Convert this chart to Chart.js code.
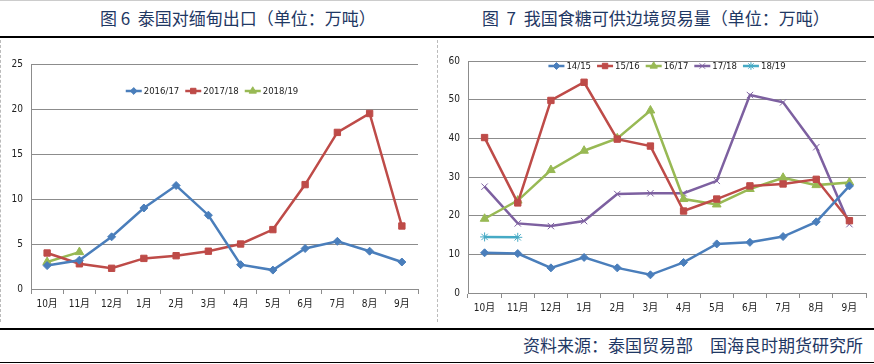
<!DOCTYPE html>
<html>
<head>
<meta charset="utf-8">
<script src="https://cdn.jsdelivr.net/npm/chart.js@4"></script>
<style>
body{margin:0;width:874px;height:364px;background:#fff;position:relative;overflow:hidden;font-family:"Noto Sans CJK SC",sans-serif}
.line{position:absolute;left:0;width:874px;background:#000}
.title{position:absolute;top:7px;font-size:17px;line-height:22px;color:#1f3864;white-space:pre}
.vdash{position:absolute;top:40px;height:282px;width:0;border-left:1px dashed #bbb}
.box{position:absolute;top:40px;width:434px;height:280px}
.src{position:absolute;right:11px;top:333px;font-size:17px;line-height:24px;color:#1f3864;white-space:pre}
</style>
</head>
<body>
<div class="line" style="top:0;height:1px;background:#ccc"></div>
<div class="title" style="left:100px">图 6  泰国对缅甸出口（单位：万吨）</div>
<div class="title" style="left:482px">图  7  我国食糖可供边境贸易量（单位：万吨）</div>
<div class="line" style="top:36px;height:2px"></div>
<div class="vdash" style="left:0"></div>
<div class="vdash" style="left:437px"></div>
<div class="box" style="left:2px"><canvas id="c1" width="434" height="280"></canvas></div>
<div class="box" style="left:438px"><canvas id="c2" width="434" height="280"></canvas></div>
<div class="line" style="top:328px;height:2px"></div>
<div class="src">资料来源：泰国贸易部　国海良时期货研究所</div>
<div class="line" style="top:362px;height:1px"></div>
<script>
// categories (months)
const months = ['10月', '11月', '12月', '1月', '2月', '3月', '4月', '5月', '6月', '7月', '8月', '9月'];

// Thailand exports to Myanmar
const y1617 = [2.6, 3.2, 5.8, 9.0, 11.5, 8.2, 2.7, 2.1, 4.5, 5.3, 4.2, 3.0];
const y1718 = [4.0, 2.8, 2.3, 3.4, 3.7, 4.2, 5.0, 6.6, 11.6, 17.4, 19.5, 7.0];
const y1819 = [3.0, 4.1];

// China border trade sugar supply
const s1415 = [10.4, 10.2, 6.5, 9.2, 6.5, 4.7, 7.9, 12.7, 13.1, 14.6, 18.4, 27.7];
const s1516 = [40.2, 23.3, 49.8, 54.5, 39.8, 38.0, 21.2, 24.3, 27.7, 28.2, 29.4, 18.7];
const s1617 = [19.2, 23.9, 31.8, 36.8, 40.0, 47.2, 24.3, 22.9, 26.9, 29.8, 27.9, 28.6];
const s1718 = [27.5, 18.0, 17.3, 18.6, 25.6, 25.8, 25.8, 29.0, 51.2, 49.3, 37.7, 17.8];
const s1819 = [14.5, 14.4];

const leftTicks = [0, 5, 10, 15, 20, 25];
const rightTicks = [0, 10, 20, 30, 40, 50, 60];

const tickFont = { family: '"Liberation Sans Narrow", "DejaVu Sans Condensed", "Noto Sans CJK SC", sans-serif', size: 10 };
const gridColor = '#8c8c8c';

// Excel-like series styles
const styles = {
    blue: { color: '#4a7ebb', pointStyle: 'rectRot', radius: 4 },
    red: { color: '#be4b48', pointStyle: 'rect', radius: 4.5 },
    green: { color: '#98b954', pointStyle: 'triangle', radius: 5 },
    purple: { color: '#7d60a0', pointStyle: 'crossRot', radius: 4.5 },
    cyan: { color: '#46aac5', pointStyle: 'star', radius: 4.5 }
};

function makeSet(label, data, st) {
    return {
        label: label,
        data: data,
        borderColor: st.color,
        backgroundColor: st.color,
        pointStyle: st.pointStyle,
        pointRadius: st.radius,
        pointBorderWidth: 1,
        pointBorderColor: st.color,
        pointBackgroundColor: st.color,
        borderWidth: 2.5,
        tension: 0,
        clip: false
    };
}

// legend drawn inside the plot area
function legendPlugin(cx, cy) {
    return {
        id: 'innerLegend',
        afterDraw(chart) {
            const ctx = chart.ctx;
            ctx.save();
            ctx.font = '9.5px ' + tickFont.family;
            const sets = chart.data.datasets;
            const sample = 16, gap = 2, sep = 6;
            let total = 0;
            sets.forEach((d, i) => {
                total += sample + gap + ctx.measureText(d.label).width + (i < sets.length - 1 ? sep : 0);
            });
            let x = cx - total / 2;
            sets.forEach(d => {
                ctx.strokeStyle = d.borderColor;
                ctx.fillStyle = d.borderColor;
                ctx.lineWidth = 2.5;
                ctx.beginPath();
                ctx.moveTo(x, cy);
                ctx.lineTo(x + sample, cy);
                ctx.stroke();
                ctx.lineWidth = 1;
                Chart.helpers.drawPoint(ctx, { pointStyle: d.pointStyle, radius: d.pointRadius * 0.85, rotation: 0, borderWidth: 1 }, x + sample / 2, cy);
                x += sample + gap;
                ctx.fillStyle = '#222';
                ctx.textBaseline = 'middle';
                ctx.fillText(d.label, x, cy + 0.5);
                x += ctx.measureText(d.label).width + sep;
            });
            ctx.restore();
        }
    };
}

function makeChart(id, sets, ticks, pad, yWidth, xHeight, legendX, legendY) {
    return new Chart(document.getElementById(id), {
        type: 'line',
        data: { labels: months, datasets: sets },
        options: {
            responsive: false,
            animation: false,
            layout: { padding: pad },
            plugins: { legend: { display: false }, tooltip: { enabled: false } },
            scales: {
                x: {
                    offset: true,
                    grid: { display: true, offset: true, drawOnChartArea: false, drawTicks: true, tickLength: 5, color: gridColor },
                    border: { color: gridColor },
                    ticks: { font: tickFont, color: '#222', padding: 4, maxRotation: 0 },
                    afterFit(s) { s.height = xHeight; }
                },
                y: {
                    min: ticks[0],
                    max: ticks[ticks.length - 1],
                    afterBuildTicks(s) { s.ticks = ticks.map(v => ({ value: v })); },
                    grid: { color: gridColor, drawTicks: false },
                    border: { color: gridColor },
                    ticks: { font: tickFont, color: '#222', padding: 8 },
                    afterFit(s) { s.width = yWidth; }
                }
            }
        },
        plugins: [legendPlugin(legendX, legendY)]
    });
}

makeChart('c1', [
    makeSet('2016/17', y1617, styles.blue),
    makeSet('2017/18', y1718, styles.red),
    makeSet('2018/19', y1819, styles.green)
], leftTicks, { top: 24, right: 18, left: 0, bottom: 0 }, 29, 31, 210, 51);

makeChart('c2', [
    makeSet('14/15', s1415, styles.blue),
    makeSet('15/16', s1516, styles.red),
    makeSet('16/17', s1617, styles.green),
    makeSet('17/18', s1718, styles.purple),
    makeSet('18/19', s1819, styles.cyan)
], rightTicks, { top: 21, right: 5, left: 0, bottom: 0 }, 30, 27, 229, 26);
</script>
</body>
</html>
